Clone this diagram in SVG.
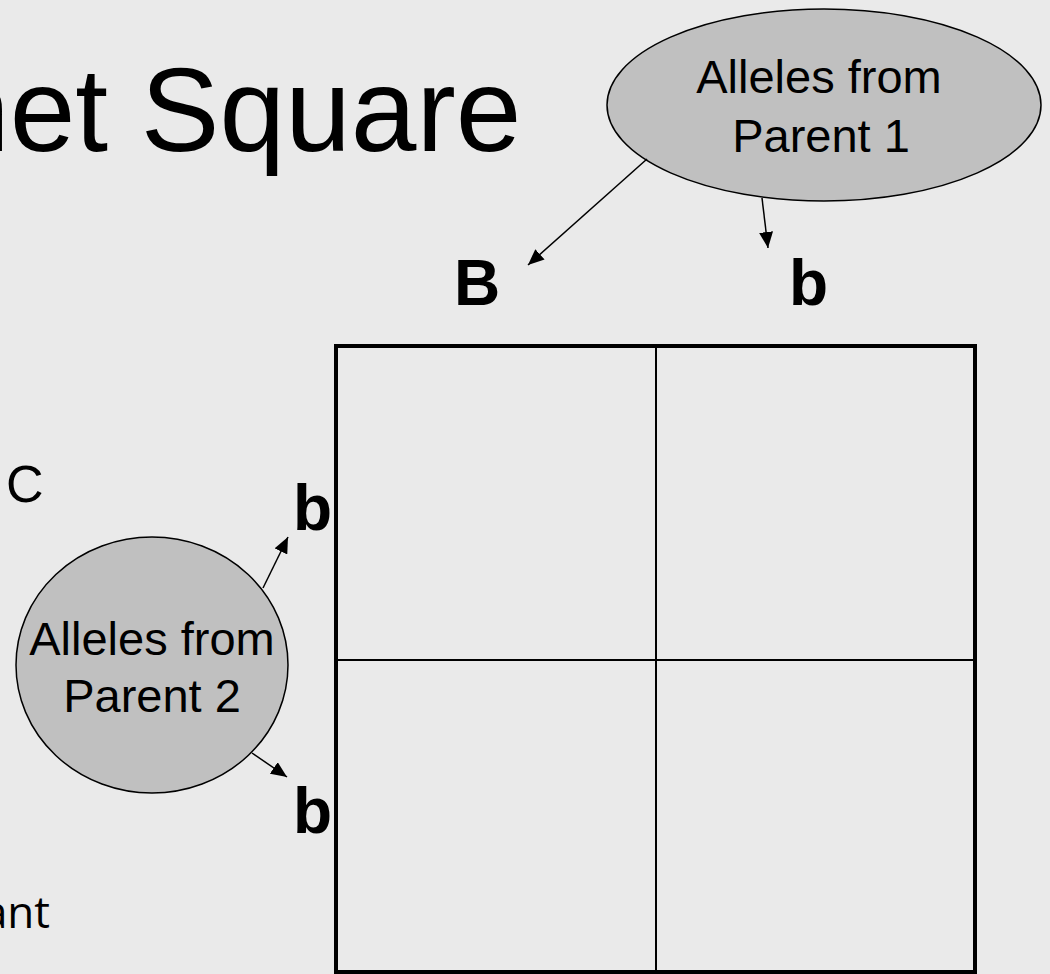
<svg xmlns="http://www.w3.org/2000/svg" width="1050" height="974" viewBox="0 0 1050 974">
  <style>
    .t { font-family: "Liberation Sans", Arial, sans-serif; fill: #000; }
    .bub { fill: #C0C0C0; stroke: #000; stroke-width: 1.5; }
    .al { font-family: "Liberation Sans", Arial, sans-serif; font-size: 47px; fill: #000; text-anchor: middle; }
    .lab { font-family: "Liberation Sans", Arial, sans-serif; font-size: 64px; font-weight: bold; fill: #000; }
    .con { stroke: #000; stroke-width: 1.5; fill: none; marker-end: url(#arr); }
    .grid { stroke: #000; fill: none; }
  </style>
  <defs>
    <marker id="arr" markerUnits="userSpaceOnUse" markerWidth="18" markerHeight="14" refX="16" refY="7" orient="auto">
      <path d="M0,0 L16,7 L0,14 Z" fill="#000"/>
    </marker>
  </defs>
  <rect x="0" y="0" width="1050" height="974" fill="#EAEAEA"/>

  <g id="title">
    <text class="t" x="-56" y="151" font-size="118">net Square</text>
  </g>
  <g id="fragment-c">
    <text class="t" x="6" y="502" font-size="52">C</text>
  </g>
  <g id="fragment-ant">
    <text x="50" y="928" font-family="'Open Sans', sans-serif" font-size="44" text-anchor="end" fill="#000">ant</text>
  </g>

  <g id="parent1">
    <ellipse class="bub" cx="824" cy="105" rx="217" ry="96"/>
    <text class="al" x="819" y="93">Alleles from</text>
    <text class="al" x="821" y="152">Parent 1</text>
  </g>
  <g id="parent2">
    <ellipse class="bub" cx="152" cy="665" rx="136" ry="128"/>
    <text class="al" x="152" y="655">Alleles from</text>
    <text class="al" x="152" y="712">Parent 2</text>
  </g>

  <g id="label-B"><text class="lab" x="454" y="305">B</text></g>
  <g id="label-b-top"><text class="lab" x="789" y="305">b</text></g>
  <g id="label-b-left1"><text class="lab" x="293" y="530">b</text></g>
  <g id="label-b-left2"><text class="lab" x="293" y="833">b</text></g>

  <g id="punnett-square">
    <rect class="grid" x="336" y="346" width="639" height="626" stroke-width="4"/>
    <line class="grid" x1="656" y1="346" x2="656" y2="972" stroke-width="2"/>
    <line class="grid" x1="336" y1="660" x2="975" y2="660" stroke-width="2"/>
  </g>

  <g id="connectors">
    <line class="con" x1="647" y1="159" x2="528" y2="265"/>
    <line class="con" x1="762" y1="198" x2="768" y2="248"/>
    <line class="con" x1="263" y1="588" x2="288" y2="537"/>
    <line class="con" x1="252" y1="753" x2="287" y2="777"/>
  </g>
</svg>
